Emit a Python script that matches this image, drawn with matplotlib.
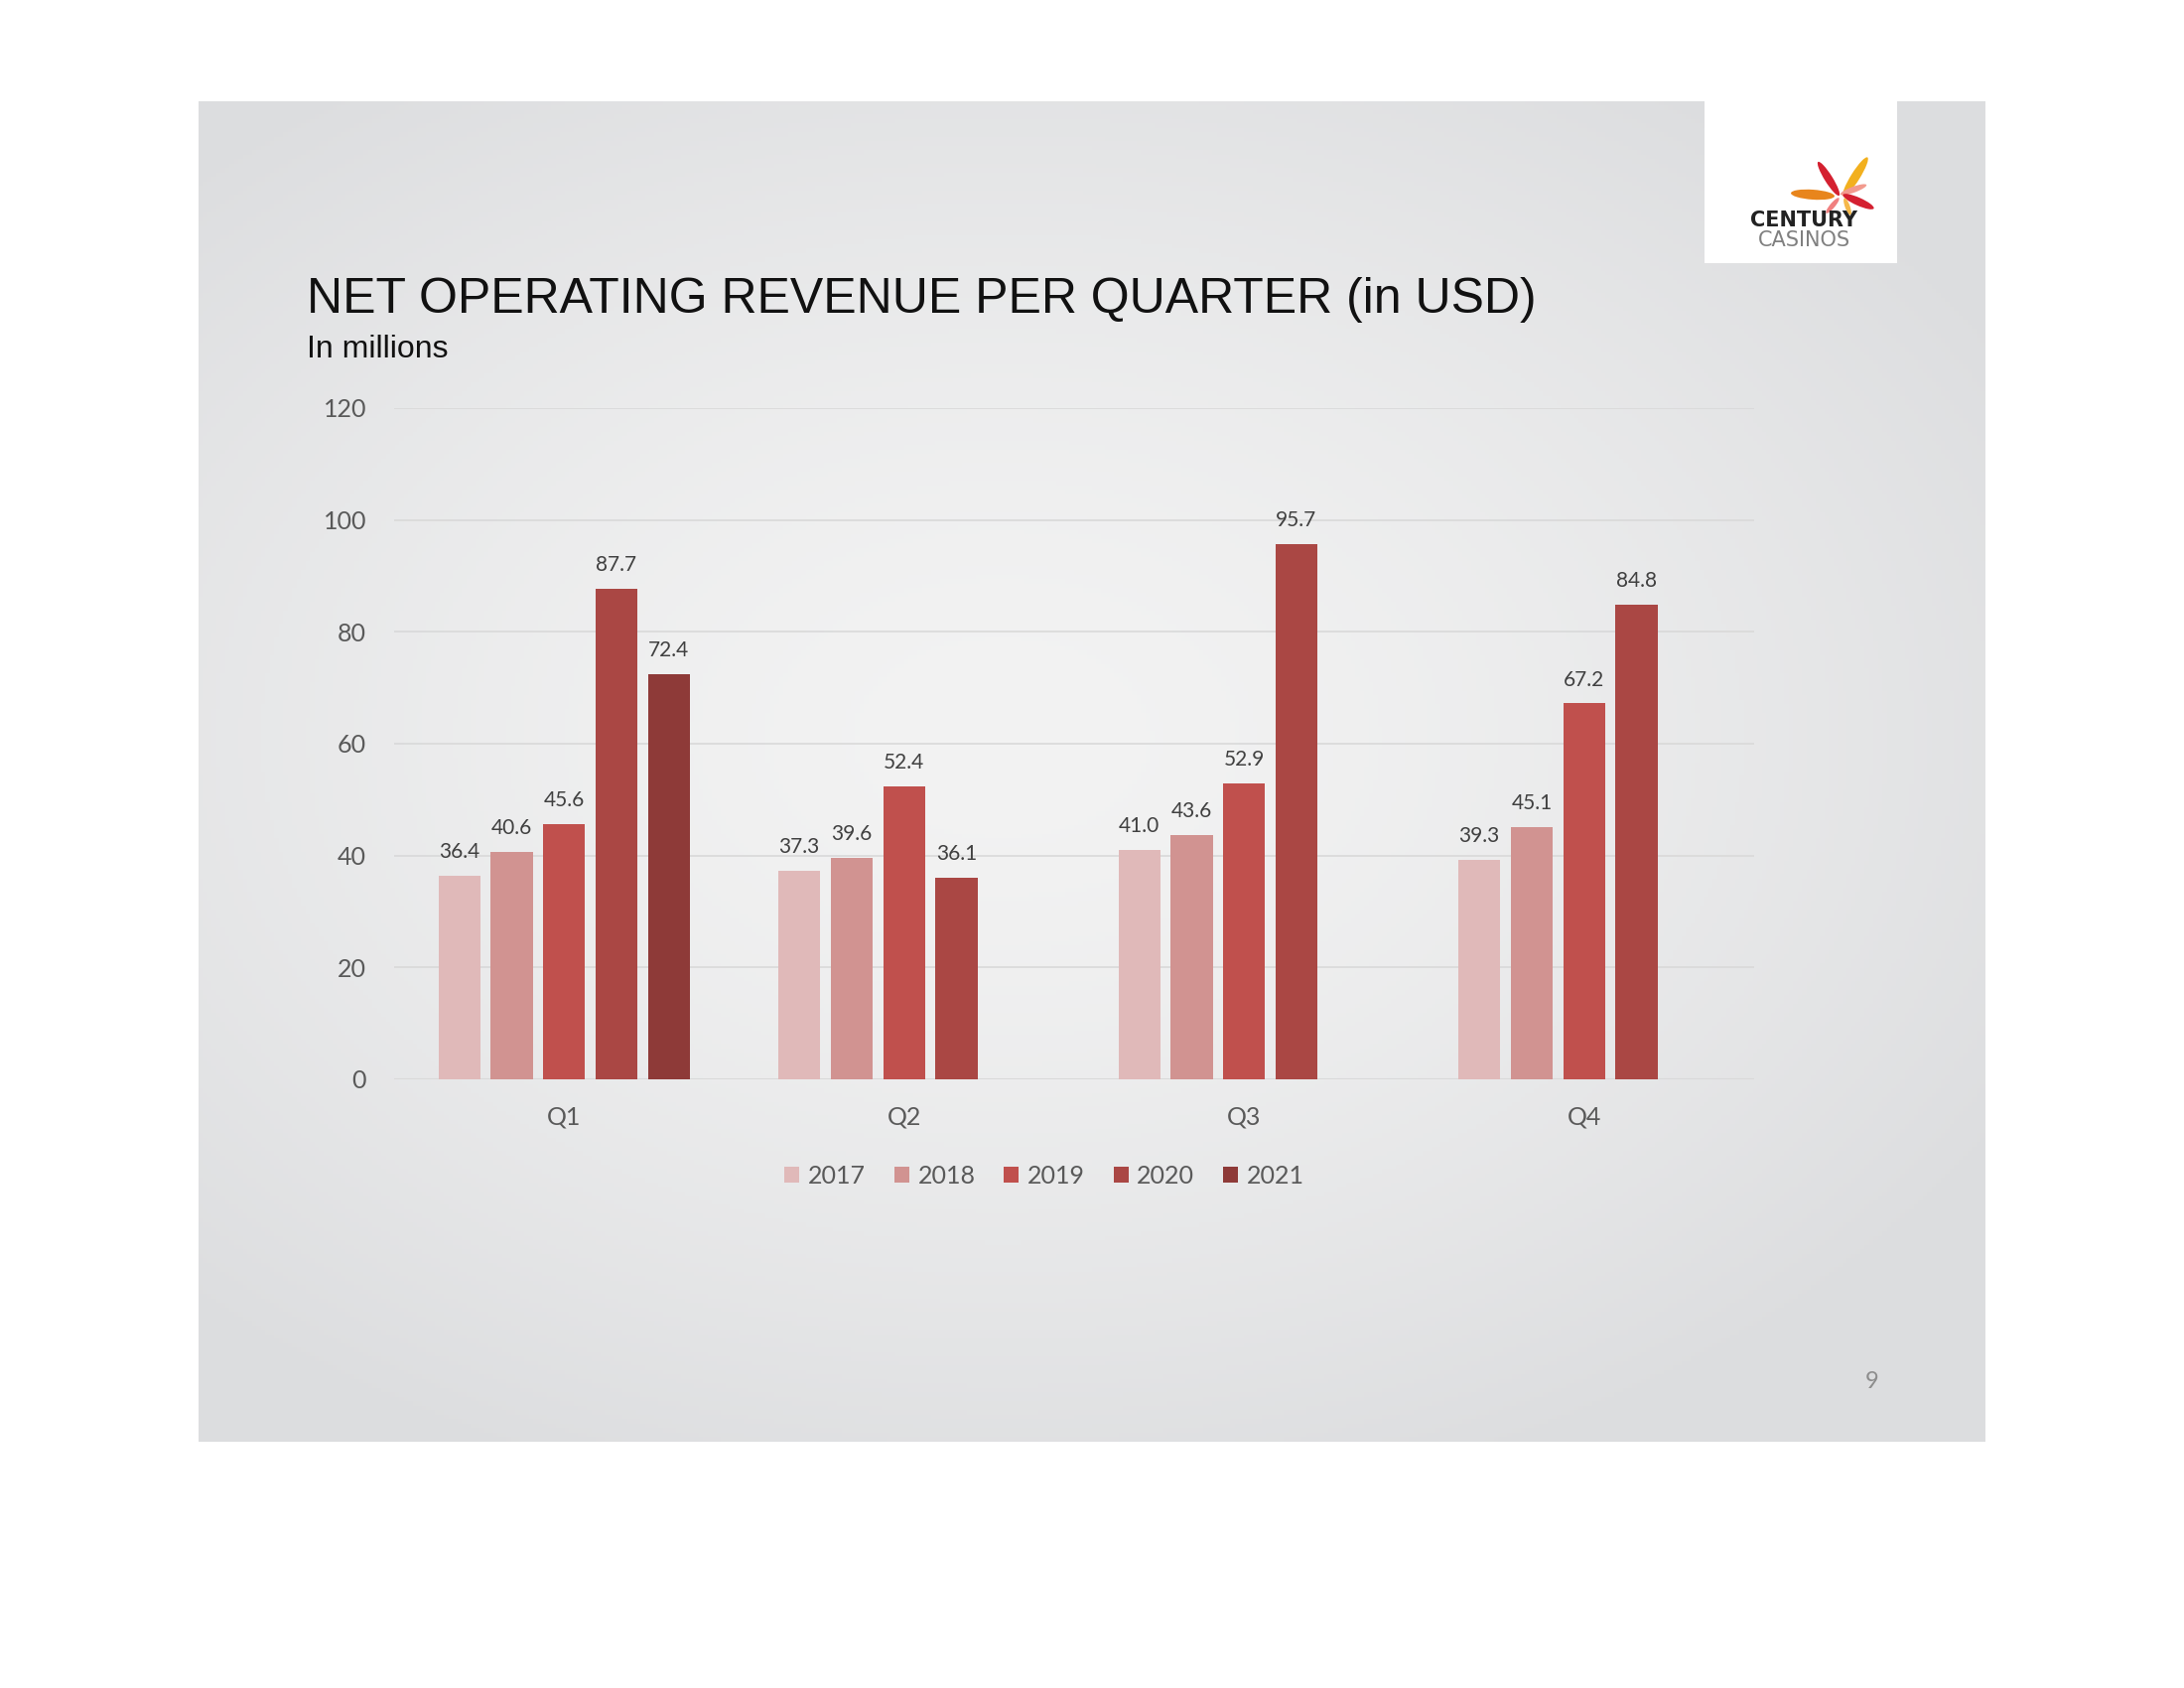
import matplotlib.pyplot as plt
import numpy as np
from matplotlib.patches import Rectangle, Ellipse

quarters = ["Q1", "Q2", "Q3", "Q4"]
years = ["2017", "2018", "2019", "2020", "2021"]
rev_2017 = [36.4, 37.3, 41.0, 39.3]
rev_2018 = [40.6, 39.6, 43.6, 45.1]
rev_2019 = [45.6, 52.4, 52.9, 67.2]
rev_2020 = [87.7, 36.1, 95.7, 84.8]
rev_2021 = [72.4, None, None, None]
series = [rev_2017, rev_2018, rev_2019, rev_2020, rev_2021]
colors = ["#E0B9B9", "#D19391", "#C0504D", "#AA4744", "#8E3A38"]

W, H = 2200, 1700
fig = plt.figure(figsize=(22, 17), dpi=100)
fig.patch.set_facecolor("white")

# page background in pixel coordinates
bg = fig.add_axes([0, 0, 1, 1])
bg.set_xlim(0, W)
bg.set_ylim(H, 0)
bg.axis("off")

x0, x1, y0, y1 = 200, 2000, 102, 1452
gx = np.linspace(-1, 1, 400)
gy = np.linspace(-1, 1, 300)
GX, GY = np.meshgrid(gx, gy)
r = np.sqrt(((GX + 0.1) / 1.1) ** 2 + ((GY + 0.05) / 1.0) ** 2)
r = np.clip(r, 0, 1.2) / 1.2
light = np.array([243, 243, 243]) / 255
dark = np.array([220, 221, 223]) / 255
img = light[None, None, :] * (1 - r[..., None] ** 1.5) + dark[None, None, :] * (r[..., None] ** 1.5)
bg.imshow(img, extent=(x0, x1, y1, y0), aspect="auto", zorder=0)

# logo
bg.add_patch(Rectangle((1717, 102), 194, 163, facecolor="white", edgecolor="none", zorder=1))
petals = [
    ((1842, 180), 40, 8, 58, "#D42030"),
    ((1869, 178), 46, 9, -58, "#F2B01E"),
    ((1826, 196), 44, 10, 4, "#E8851C"),
    ((1867, 191), 28, 6, -20, "#F29A8E"),
    ((1872, 203), 34, 8, 24, "#D42030"),
    ((1846, 207), 20, 5, -50, "#F08080"),
    ((1861, 208), 18, 5, 70, "#F5B84A"),
]
for (cx, cy), w, h, ang, c in petals:
    bg.add_patch(Ellipse((cx, cy), w, h, angle=ang, facecolor=c, edgecolor="none", zorder=2))
bg.text(1817, 222, "CENTURY", fontsize=15, fontweight="bold", color="#222222",
        ha="center", va="center", family="DejaVu Sans", zorder=3)
bg.text(1817, 242, "CASINOS", fontsize=15, color="#808080",
        ha="center", va="center", family="DejaVu Sans", zorder=3)

# titles
title_font = ["Liberation Sans"]
bg.text(309, 302, "NET OPERATING REVENUE PER QUARTER (in USD)", fontsize=36,
        color="#111111", family=title_font, ha="left", va="center")
bg.text(309, 352, "In millions", fontsize=23, color="#111111",
        family=title_font, ha="left", va="center")
bg.text(1886, 1391, "9", fontsize=17, color="#8C8C8C", family="Lato",
        ha="center", va="center")

# chart
ax = fig.add_axes([397 / W, 1 - 1087 / H, (1767 - 397) / W, (1087 - 411) / H])
ax.set_facecolor("none")
x = np.arange(len(quarters))
pitch = 0.154
width = 0.123
for i, (yr, vals, c) in enumerate(zip(years, series, colors)):
    xs = [xi + (i - 2) * pitch for xi, v in zip(x, vals) if v is not None]
    vs = [v for v in vals if v is not None]
    bars = ax.bar(xs, vs, width=width, color=c, label=yr, zorder=3)
    for b, v in zip(bars, vs):
        ax.annotate(f"{v:.1f}", (b.get_x() + b.get_width() / 2, v),
                    xytext=(0, 10), textcoords="offset points",
                    ha="center", va="bottom", fontsize=15,
                    color="#404040", family="Lato")

ax.set_xlim(-0.5, 3.5)
ax.set_ylim(0, 120)
ax.set_yticks(range(0, 121, 20))
ax.set_xticks(x, quarters)
ax.grid(axis="y", color="#D9D9D9", linewidth=1.2, zorder=0)
for s in ax.spines.values():
    s.set_visible(False)
ax.axhline(0, color="#D9D9D9", linewidth=1.5, zorder=1)
ax.tick_params(length=0, labelsize=18, labelcolor="#595959", pad=20)
ax.tick_params(axis="x", pad=19)
for lbl in ax.get_xticklabels() + ax.get_yticklabels():
    lbl.set_family("Lato")

leg = fig.legend(loc="center", bbox_to_anchor=(1052 / W, 1 - 1184 / H), ncol=5,
                 frameon=False, fontsize=18, handlelength=0.6, handleheight=0.6,
                 handletextpad=0.35, columnspacing=1.15)
for t in leg.get_texts():
    t.set_color("#595959")
    t.set_family("Lato")

fig.savefig("out.png", dpi=100)
